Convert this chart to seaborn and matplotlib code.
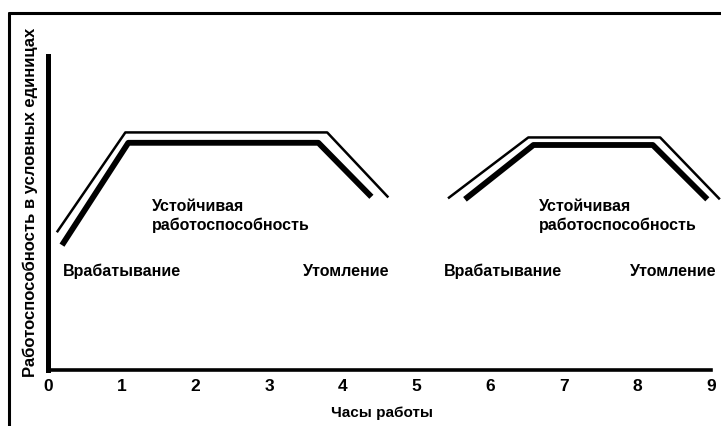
import pandas as pd
import seaborn as sns
import matplotlib.pyplot as plt
from matplotlib.lines import Line2D

sns.set_theme(style="white")
plt.rcParams['font.family'] = ['Liberation Sans', 'DejaVu Sans']
plt.rcParams['font.weight'] = 'bold'
plt.rcParams['text.color'] = 'black'
plt.rcParams['axes.labelcolor'] = 'black'

# Data (hours, performance in conventional units)
day1_hours_upper = [0.12, 1.05, 3.79, 4.62]
day1_upper = [4.37, 7.55, 7.55, 5.48]
day1_hours_lower = [0.19, 1.09, 3.67, 4.39]
day1_lower = [3.96, 7.22, 7.22, 5.50]
day2_hours_upper = [5.43, 6.52, 8.31, 9.12]
day2_upper = [5.45, 7.39, 7.39, 5.42]
day2_hours_lower = [5.66, 6.59, 8.21, 8.95]
day2_lower = [5.42, 7.15, 7.15, 5.42]
hour_ticks = list(range(10))

phase_labels = ["Врабатывание", "Устойчивая\nработоспособность", "Утомление"]

fig = plt.figure(figsize=(7.21, 4.27), dpi=100)
ax = fig.add_axes([48 / 721, 56.5 / 427, 663 / 721, 314 / 427])

# thin outline curve and thick curve for each work period
for hx, hy, lw in [(day1_hours_upper, day1_upper, 1.8),
                   (day1_hours_lower, day1_lower, 4.2),
                   (day2_hours_upper, day2_upper, 1.8),
                   (day2_hours_lower, day2_lower, 4.2)]:
    df = pd.DataFrame({'hour': hx, 'perf': hy})
    sns.lineplot(data=df, x='hour', y='perf', color='black', linewidth=lw,
                 ax=ax, clip_on=False, solid_capstyle='butt')

ax.set_xlim(0, 9)
ax.set_ylim(0, 10)
ax.set_xticks(hour_ticks)
ax.set_xticklabels([str(h) for h in hour_ticks], fontsize=12.5, fontweight='bold')
ax.set_yticks([])
ax.tick_params(axis='x', length=0, pad=6, colors='black')

for side in ['top', 'right']:
    ax.spines[side].set_visible(False)
ax.spines['left'].set_linewidth(3.6)
ax.spines['bottom'].set_linewidth(2.6)
ax.spines['left'].set_color('black')
ax.spines['bottom'].set_color('black')

ax.set_xlabel("Часы работы", fontsize=11, fontweight='bold', va='center')
ax.xaxis.set_label_coords(0.504, -0.135)
ax.set_ylabel("Работоспособность в условных единицах", fontsize=12,
              fontweight='bold', va='center')
ax.yaxis.set_label_coords(-0.026, 0.536)

txt = dict(fontsize=11.5, fontweight='bold', color='black')
for start in [0, 5.18]:
    ax.text(0.2 + start, 3.16, phase_labels[0], ha='left', va='center', **txt)
    ax.text(1.41 + start * 1.015, 5.45, phase_labels[1], ha='left', va='top',
            linespacing=1.25, **txt)
ax.text(3.46, 3.16, phase_labels[2], ha='left', va='center', **txt)
ax.text(7.90, 3.16, phase_labels[2], ha='left', va='center', **txt)

# outer frame (left and top edges visible)
fig.add_artist(Line2D([8.7 / 721, 8.7 / 721], [0, 1 - 13.7 / 427],
                      transform=fig.transFigure, color='black', linewidth=2.2))
fig.add_artist(Line2D([8.7 / 721, 1], [1 - 13.7 / 427, 1 - 13.7 / 427],
                      transform=fig.transFigure, color='black', linewidth=2.2))

fig.savefig("out.png", dpi=100)
